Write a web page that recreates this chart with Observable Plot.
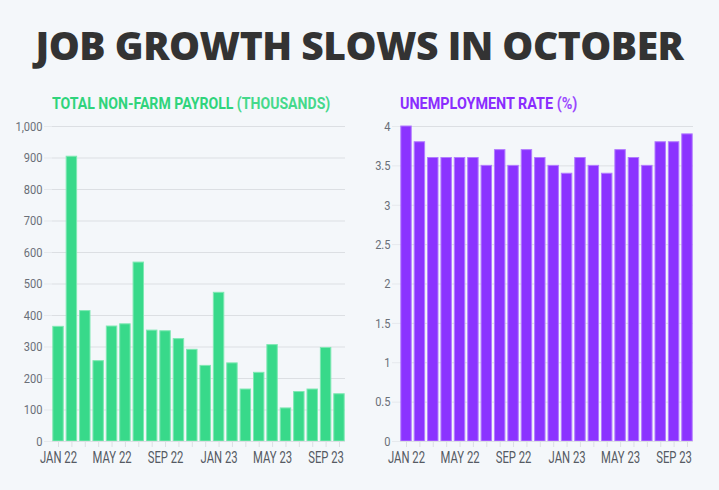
<!DOCTYPE html>
<html>
<head>
<meta charset="utf-8">
<script src="https://cdn.jsdelivr.net/npm/d3@7"></script>
<script src="https://cdn.jsdelivr.net/npm/@observablehq/plot@0.6"></script>
<style>
  html, body { margin: 0; padding: 0; background: #f4f7fa; }
  #root { position: relative; width: 719px; height: 490px; overflow: hidden; background: #f4f7fa; }
  .title { position: absolute; left: 0; width: 719px; top: 18px; text-align: center;
    font-family: "Open Sans", sans-serif; font-weight: 800; font-size: 39px; color: #333; letter-spacing: -0.5px; }
  .sub { position: absolute; top: 94px; font-family: Roboto, sans-serif;
    font-weight: bold; font-size: 16px; white-space: nowrap; transform-origin: left top; display: inline-block; }
  .panel { position: absolute; top: 116px; }
  .panel svg text { font-family: Roboto, sans-serif; }
</style>
</head>
<body>
<div id="root">
  <div class="title" id="title">JOB GROWTH SLOWS IN OCTOBER</div>
  <div class="sub" id="sub1" style="left:52px;color:#2fd47c">TOTAL NON-FARM PAYROLL <span style="color:#45d98b">(THOUSANDS)</span></div>
  <div class="sub" id="sub2" style="left:400px;color:#8a2cff">UNEMPLOYMENT RATE <span style="color:#9a48ff">(%)</span></div>
  <div class="panel" id="left" style="left:0px"></div>
  <div class="panel" id="right" style="left:360px"></div>
</div>
<script>
const months = ["JAN 22","FEB 22","MAR 22","APR 22","MAY 22","JUN 22","JUL 22","AUG 22","SEP 22","OCT 22","NOV 22","DEC 22",
                "JAN 23","FEB 23","MAR 23","APR 23","MAY 23","JUN 23","JUL 23","AUG 23","SEP 23","OCT 23"];
const payroll = [364, 904, 414, 255, 365, 372, 568, 352, 350, 325, 291, 240, 472, 248, 165, 218, 306, 105, 157, 165, 297, 150];
const unemployment = [4.0, 3.8, 3.6, 3.6, 3.6, 3.6, 3.5, 3.7, 3.5, 3.7, 3.6, 3.5, 3.4, 3.6, 3.5, 3.4, 3.7, 3.6, 3.5, 3.8, 3.8, 3.9];
const payrollTicks = [0,100,200,300,400,500,600,700,800,900,1000];
const rateTicks = [0,0.5,1,1.5,2,2.5,3,3.5,4];
const xLabels = ["JAN 22","MAY 22","SEP 22","JAN 23","MAY 23","SEP 23"];

function panel(values, ticks, fmt, color, stroke, opts) {
  const data = months.map((m, i) => ({month: m, value: values[i]}));
  return Plot.plot({
    width: opts.width, height: 364,
    marginLeft: opts.marginLeft, marginRight: opts.marginRight, marginTop: 10, marginBottom: 39,
    style: {background: "transparent", fontSize: "13px", color: "#666", overflow: "visible"},
    x: {domain: months, paddingInner: 0.22, paddingOuter: 0.06, round: false, label: null},
    y: {domain: [0, ticks[ticks.length - 1]], label: null},
    marks: [
      Plot.gridY(ticks, {stroke: "#dcdfe3", strokeOpacity: 1}),
      Plot.axisY(ticks, {tickFormat: fmt, tickSize: 8, stroke: "#e6e9ed", strokeOpacity: 1, tickPadding: 2, fill: "#6a6f78", fontSize: 13.5, label: null}),
      Plot.barY(data, {x: "month", y: "value", fill: color, stroke: stroke, strokeWidth: 1}),
      Plot.ruleY([0], {stroke: "#dcdfe3"}),
      Plot.axisX(months, {tickSize: 6, stroke: "#dcdfe3", strokeOpacity: 1, tickPadding: 3, fontSize: 17, fill: "#555a63",
                  tickFormat: d => xLabels.includes(d) ? d : "", label: null})
    ]
  });
}

const L = panel(payroll, payrollTicks, d3.format(","), "#38d98a", "#7fe8b3", {width: 360, marginLeft: 52, marginRight: 15});
const R = panel(unemployment, rateTicks, d => String(d), "#8b33ff", "#b27cff", {width: 359, marginLeft: 40, marginRight: 26});
document.getElementById("left").append(L);
document.getElementById("right").append(R);

function squeeze(texts, factor) {
  texts.forEach(t => {
    const w = t.getComputedTextLength();
    if (w > 0) { t.setAttribute("textLength", (w * factor).toFixed(2)); t.setAttribute("lengthAdjust", "spacingAndGlyphs"); }
  });
}
[L, R].forEach(s => {
  const xt = [...s.querySelectorAll('g[aria-label="x-axis tick label"] text')];
  xt.forEach(t => { if (t.textContent.trim() === "") t.remove(); });
  const xk = xt.filter(t => t.textContent.trim() !== "");
  const yt = [...s.querySelectorAll('g[aria-label="y-axis tick label"] text')];
  let f = 0.7;
  xk.forEach(t => { if (t.textContent === "JAN 22") f = 37 / t.getComputedTextLength(); });
  squeeze(xk, f);
  squeeze(yt, 0.82);
});

const s1 = document.getElementById("sub1"); s1.style.transform = `scaleX(${278 / s1.offsetWidth})`;
const s2 = document.getElementById("sub2"); s2.style.transform = `scaleX(${177 / s2.offsetWidth})`;
</script>
</body>
</html>
